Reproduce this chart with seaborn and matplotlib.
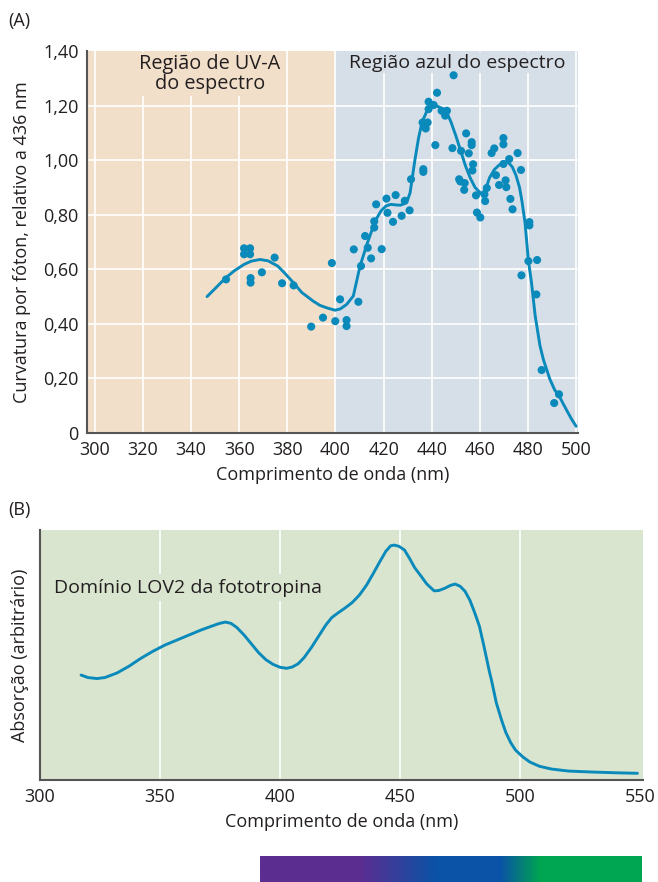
import numpy as np
import pandas as pd
import seaborn as sns
import matplotlib.pyplot as plt
from matplotlib.colors import LinearSegmentedColormap

# Data ######################################################################

# (A) scatter: phototropic curvature per photon, relative to 436 nm
pts_nm = [354.5, 362.0, 364.5, 362.0, 364.5, 364.7, 364.7, 369.4, 374.7, 377.8,
          382.6, 389.9, 394.8, 398.5, 399.9, 401.9, 404.6, 404.6, 407.6, 409.5,
          410.6, 414.8, 419.2, 413.4, 412.3, 416.1, 416.1, 416.9, 421.2, 421.6,
          425.0, 423.9, 427.5, 428.8, 430.8, 431.4, 436.5, 436.5, 449.1, 442.2,
          438.7, 440.8, 438.7, 444.1, 446.3, 445.6, 436.2, 438.3, 437.5, 441.5,
          448.6, 454.3, 456.6, 456.6, 452.2, 455.4, 457.2, 456.9, 451.4, 451.9,
          453.7, 453.5, 458.4, 461.9, 462.2, 462.9, 458.8, 460.2, 464.9, 466.0,
          469.8, 469.8, 475.7, 472.2, 469.8, 466.7, 470.7, 477.1, 468.0, 471.0,
          472.7, 473.6, 480.6, 480.6, 480.2, 483.8, 477.3, 483.5, 485.7, 492.9,
          490.9]
pts_val = [0.563, 0.677, 0.677, 0.655, 0.655, 0.568, 0.551, 0.589, 0.643, 0.549,
           0.541, 0.390, 0.423, 0.623, 0.410, 0.490, 0.414, 0.392, 0.673, 0.481,
           0.612, 0.640, 0.674, 0.679, 0.722, 0.753, 0.776, 0.838, 0.859, 0.807,
           0.872, 0.774, 0.796, 0.851, 0.816, 0.930, 0.967, 0.957, 1.311, 1.247,
           1.214, 1.202, 1.187, 1.181, 1.181, 1.163, 1.138, 1.138, 1.116, 1.055,
           1.044, 1.098, 1.066, 1.055, 1.034, 1.025, 0.985, 0.962, 0.930, 0.922,
           0.916, 0.891, 0.871, 0.875, 0.850, 0.898, 0.808, 0.790, 1.026, 1.043,
           1.081, 1.058, 1.026, 1.004, 0.986, 0.945, 0.926, 0.964, 0.909, 0.901,
           0.858, 0.820, 0.773, 0.761, 0.630, 0.634, 0.578, 0.508, 0.231, 0.142,
           0.110]

# (A) fitted curve
fitA_nm = [346.6, 350, 354.4, 358, 362, 365, 368.6, 372, 376, 379, 382.5, 386,
           390.8, 393.5, 396.3, 399.8, 402, 404.6, 407.4, 410.2, 413, 415, 417,
           419, 421, 423, 425, 427, 428.5, 430, 431, 432, 433, 434.5, 436, 438,
           440, 441.5, 443, 445, 446.5, 448, 450, 452, 454, 456, 458, 460.8,
           462.5, 464, 466, 468, 470.5, 472, 473.5, 475, 476.5, 477.5, 478.8,
           480.2, 481.5, 483, 485, 486.4, 489, 491, 493.3, 496, 498.2, 500]
fitA_val = [0.50, 0.53, 0.569, 0.595, 0.618, 0.630, 0.636, 0.631, 0.612, 0.585,
            0.551, 0.515, 0.483, 0.468, 0.459, 0.45, 0.455, 0.471, 0.502, 0.612,
            0.69, 0.74, 0.785, 0.815, 0.832, 0.838, 0.836, 0.835, 0.84, 0.855,
            0.88, 0.94, 1.00, 1.08, 1.14, 1.18, 1.197, 1.200, 1.195, 1.185, 1.17,
            1.14, 1.09, 1.035, 0.98, 0.935, 0.90, 0.875, 0.895, 0.935, 0.965,
            0.982, 0.994, 0.99, 0.975, 0.945, 0.90, 0.85, 0.77, 0.63, 0.55, 0.43,
            0.32, 0.27, 0.20, 0.16, 0.13, 0.085, 0.05, 0.025]

# (B) LOV2 absorption spectrum (arbitrary units)
absB_nm = [317.1, 320, 323.7, 327, 332, 337, 342, 347, 352, 357, 362, 367, 371,
           374.5, 377.2, 379.5, 382, 385, 388, 391, 394, 397, 400, 402.7, 405,
           407.5, 410, 413, 416, 419, 421.5, 424, 427, 430, 433, 436, 439, 441.3,
           444, 446, 447.5, 449.5, 451.8, 454, 456, 458.9, 461, 464.1, 466,
           468.5, 471, 472.9, 475, 477, 479, 481, 483, 485, 487, 488, 490, 492.2,
           494, 496, 498, 501, 504, 508, 513, 520, 530, 540, 548.8]
absB_val = [0.420, 0.410, 0.406, 0.410, 0.428, 0.455, 0.487, 0.515, 0.540, 0.560,
            0.580, 0.600, 0.614, 0.626, 0.632, 0.627, 0.610, 0.580, 0.545, 0.510,
            0.482, 0.463, 0.451, 0.447, 0.452, 0.465, 0.49, 0.53, 0.575, 0.62,
            0.65, 0.668, 0.688, 0.71, 0.74, 0.78, 0.83, 0.87, 0.915, 0.937, 0.94,
            0.935, 0.92, 0.885, 0.85, 0.813, 0.785, 0.757, 0.758, 0.767, 0.779,
            0.784, 0.775, 0.755, 0.72, 0.67, 0.615, 0.53, 0.44, 0.40, 0.31, 0.24,
            0.19, 0.15, 0.12, 0.093, 0.072, 0.055, 0.044, 0.036, 0.032, 0.029,
            0.027]

yticksA = [0, 0.2, 0.4, 0.6, 0.8, 1.0, 1.2, 1.4]
yticklabelsA = ["0", "0,20", "0,40", "0,60", "0,80", "1,00", "1,20", "1,40"]
xticksA = list(range(300, 501, 20))
xticksB = list(range(300, 551, 50))

spectrum_colors = ["#5c2d91", "#5c2d91", "#0a53a6", "#0a53a6", "#00a651", "#00a651"]
spectrum_stops = [0.0, 0.26, 0.46, 0.63, 0.735, 1.0]

# Style #####################################################################

sns.set_style("white")
plt.rcParams['font.family'] = ['Open Sans', 'DejaVu Sans']
plt.rcParams['font.size'] = 13
plt.rcParams['text.color'] = '#231f20'
plt.rcParams['axes.labelcolor'] = '#231f20'
plt.rcParams['xtick.color'] = '#555555'
plt.rcParams['ytick.color'] = '#555555'
plt.rcParams['xtick.labelcolor'] = '#231f20'
plt.rcParams['ytick.labelcolor'] = '#231f20'

line_col = '#0a8abb'
peach = '#f2dfca'
bluebg = '#d6dee8'
greenbg = '#dae5cf'
spine_col = '#555555'

fig = plt.figure(figsize=(6.58, 8.82), dpi=100)

# Panel A ###################################################################
axA = fig.add_axes([0.1322, 0.509, 0.7462, 0.4332])
axA.axvspan(296.7, 400, color=peach, lw=0, zorder=0)
axA.axvspan(400, 501, color=bluebg, lw=0, zorder=0)
for x in xticksA:
    axA.axvline(x, color='white', lw=1.2, zorder=0.5)
for y in yticksA[1:-1]:
    axA.axhline(y, color='white', lw=1.2, zorder=0.5)

df_fit = pd.DataFrame({'nm': fitA_nm, 'val': fitA_val})
df_pts = pd.DataFrame({'nm': pts_nm, 'val': pts_val})
sns.lineplot(data=df_fit, x='nm', y='val', color=line_col, lw=2.1, ax=axA,
             zorder=2, sort=False)
sns.scatterplot(data=df_pts, x='nm', y='val', color=line_col, s=34,
                edgecolor='none', ax=axA, zorder=5)

axA.set_xlim(296.7, 500.8)
axA.set_ylim(0, 1.4)
axA.set_xticks(xticksA)
axA.set_yticks(yticksA)
axA.set_yticklabels(yticklabelsA)
axA.tick_params(direction='in', length=7, width=1.3, pad=6)
axA.set_xlabel('Comprimento de onda (nm)', labelpad=5)
axA.set_ylabel('Curvatura por fóton, relativo a 436 nm', labelpad=9)
for s in ['top', 'right']:
    axA.spines[s].set_visible(False)
for s in ['left', 'bottom']:
    axA.spines[s].set_color(spine_col)
    axA.spines[s].set_linewidth(1.5)

axA.text(347.8, 1.39, 'Região de UV-A\ndo espectro', ha='center', va='top',
         fontsize=14.3, linespacing=1.05, zorder=4,
         bbox=dict(facecolor=peach, edgecolor='none', pad=1))
axA.text(450.5, 1.39, 'Região azul do espectro', ha='center', va='top',
         fontsize=14, zorder=4,
         bbox=dict(facecolor=bluebg, edgecolor='none', pad=1))
fig.text(0.012, 0.976, '(A)', ha='left', va='center')

# Panel B ###################################################################
axB = fig.add_axes([0.0608, 0.1156, 0.916, 0.2834])
axB.axvspan(300, 551, color=greenbg, lw=0, zorder=0)
for x in xticksB[1:-1]:
    axB.axvline(x, color='white', lw=1.2, zorder=0.5)
df_abs = pd.DataFrame({'nm': absB_nm, 'val': absB_val})
sns.lineplot(data=df_abs, x='nm', y='val', color=line_col, lw=2.1, ax=axB,
             zorder=2, sort=False)
axB.set_xlim(300, 551)
axB.set_ylim(0, 1.0)
axB.set_xticks(xticksB)
axB.set_yticks([])
axB.tick_params(axis='x', direction='in', length=9, width=1.3, pad=6)
axB.set_xlabel('Comprimento de onda (nm)', labelpad=5)
axB.set_ylabel('Absorção (arbitrário)', labelpad=8)
for s in ['top', 'right']:
    axB.spines[s].set_visible(False)
for s in ['left', 'bottom']:
    axB.spines[s].set_color(spine_col)
    axB.spines[s].set_linewidth(1.5)
axB.text(306, 0.77, 'Domínio LOV2 da fototropina', ha='left', va='center',
         fontsize=14, zorder=4,
         bbox=dict(facecolor=greenbg, edgecolor='none', pad=3))
fig.text(0.012, 0.422, '(B)', ha='left', va='center')

# Spectrum bar ##############################################################
axC = fig.add_axes([0.395, 0.0, 0.58, 0.0295])
cmap = LinearSegmentedColormap.from_list('spec', list(zip(spectrum_stops, spectrum_colors)))
axC.imshow(np.linspace(0, 1, 512)[None, :], aspect='auto', cmap=cmap)
axC.axis('off')

fig.savefig('out.png', dpi=100)
